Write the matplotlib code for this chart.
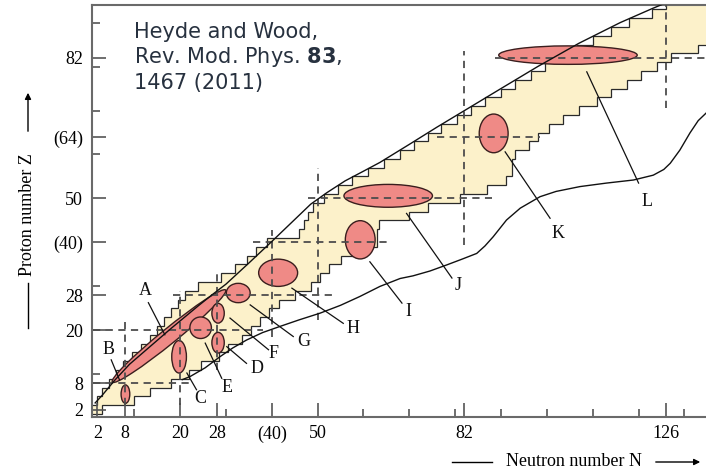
import numpy as np
import matplotlib.pyplot as plt
from matplotlib.patches import Ellipse, Polygon

# ------------------------------------------------------------------ #
#   Data (N = neutrons, Z = protons)
# ------------------------------------------------------------------ #
# band of known nuclei: one row per 2 units of Z, left / right edge in N
row_z = np.arange(1, 95, 2)
row_n_min = [0, 2, 3, 4.5, 6, 7.5, 9.5, 11.5, 13.5, 15,
             16.5, 18, 19.5, 21, 24, 29, 32, 34.5, 36.5, 39,
             46, 47, 48, 49, 51.5, 54.5, 57.5, 61, 64.5, 68,
             71, 74, 77, 80.5, 83.5, 86.5, 90, 93, 96.5, 99.5,
             103, 106.5, 110, 114, 118, 123, 126]
row_n_max = [3, 10, 13.5, 18, 22, 24.5, 28.5, 30.5, 33.5, 35.5,
             37.5, 39.5, 41.5, 45, 48.5, 50.5, 52.5, 55, 59, 63,
             63, 63.5, 70, 74, 81, 87, 91, 92.5, 92.5, 93,
             96, 98, 100.5, 103.5, 107, 111, 114, 117.5, 120.5, 124,
             127, 133, 140, 140, 140, 140, 140]

# proton drip line (upper smooth curve)
p_drip_n = [1.5, 3, 5.8, 9, 12, 15, 18, 21, 24, 27, 30, 35, 40, 45, 48.5,
            52, 56, 60, 63.6, 70, 76, 83, 90, 98, 107, 116, 123, 126]
p_drip_z = [3.5, 5.2, 8.7, 12.3, 15, 17.7, 20.4, 23, 25.6, 28.1, 30.5, 35.3,
            40.2, 45.2, 48.7, 51.3, 54, 56.2, 58.2, 62.3, 66.2, 70.6, 75, 80,
            85.3, 90, 93.2, 94.5]

# lower smooth curve
n_line_n = [20.5, 22.2, 25.5, 28.7, 31.5, 34.5, 38, 41.8, 46, 50.5, 55, 59.2,
            63.6, 68, 70.8, 74.5, 78.2, 81.5, 84.7, 86.5, 88.3, 91.2, 94.2,
            98.5, 102, 107.2, 113, 118.9, 123.2, 125.5, 126.9, 129, 131.2,
            133, 134.7]
n_line_z = [8.8, 9.5, 11.5, 14, 16, 17.8, 19.5, 20.9, 22.4, 23.9, 25.7, 27.7,
            30, 31.8, 32.4, 33.5, 34.9, 36.2, 37.5, 39.2, 41.3, 45.1, 47.8,
            50.4, 51.6, 52.7, 53.5, 54.2, 55.3, 56.6, 58, 61, 64.9, 67.7, 69.4]

# shape-coexistence regions (ellipses)
region_names = ["A", "B", "C", "D", "E", "F", "G", "H", "I", "J", "K", "L"]
ell_n = [17.6, 8.1, 19.8, 28.3, 24.5, 28.3, 32.7, 41.4, 59.3, 65.4, 88.4, 104.6]
ell_z = [18.7, 5.5, 14.0, 17.2, 20.6, 23.9, 28.5, 33.1, 40.6, 50.6, 64.8, 82.6]
ell_w = [32.4, 1.9, 3.2, 2.7, 4.7, 2.7, 5.2, 8.5, 6.5, 19.3, 6.3, 30.2]
ell_h = [3.4, 4.2, 7.4, 4.7, 4.9, 4.5, 4.4, 6.2, 8.7, 5.2, 8.8, 4.2]
ell_ang = [40.3, 0, 0, 0, 0, 0, 0, 0, 0, 0, 0, 0]

# label text position and leader line (start -> end)
lab_n = [12.4, 4.4, 24.4, 36.7, 30.2, 40.3, 46.9, 57.7, 69.8, 80.7, 102.5, 121.8]
lab_z = [29.0, 15.6, 4.6, 11.4, 6.9, 14.8, 17.5, 20.5, 24.3, 30.3, 42.1, 49.3]
lead_n0 = [16.7, 6.8, 21.5, 30.2, 25.5, 30.9, 35.3, 44.4, 61.4, 69.4, 90.9, 108.7]
lead_z0 = [19.0, 8.75, 10.3, 16.3, 17.1, 22.8, 25.8, 29.6, 35.6, 46.6, 60.6, 78.8]
lead_n1 = [13.1, 5.0, 23.6, 34.5, 29.1, 39.3, 44.7, 55.6, 68.4, 79.3, 100.7, 120.0]
lead_z1 = [26.3, 13.3, 6.5, 12.5, 9.1, 15.6, 18.6, 21.6, 26.2, 31.9, 45.5, 53.5]

# magic-number dashed guides
h_dash_z = [8, 20, 28, 40, 50, 64, 82]
h_dash_n0 = [1, 1, 18.5, 36, 48, 76, 88.7]
h_dash_n1 = [22, 38, 53.5, 66, 88, 98.5, 136]
v_dash_n = [8, 20, 28, 40, 50, 82, 126]
v_dash_z0 = [3, 3, 11, 18.6, 22.4, 39.4, 70.5]
v_dash_z1 = [22, 29, 34, 42.8, 57, 83.5, 95]

x_major = [2, 8, 20, 28, 40, 50, 82, 126]
x_major_lab = ["2", "8", "20", "28", "(40)", "50", "82", "126"]
x_minor = [10, 30, 60, 70, 80, 90, 100, 110, 120, 130]
y_major = [2, 8, 20, 28, 40, 50, 64, 82]
y_major_lab = ["2", "8", "20", "28", "(40)", "50", "(64)", "82"]
y_minor = [10, 30, 60, 70, 80, 90]

SERIF = "Liberation Serif"
W, H = 706, 471


def fx(px):
    return px / W


def fy(py):
    return 1 - py / H


# ------------------------------------------------------------------ #
fig = plt.figure(figsize=(W / 100, H / 100), dpi=100)
ax = fig.add_axes([fx(91.5), fy(417), 1 - fx(91.5), fy(5) - fy(417)])
ax.set_xlim(0.7, 134.7)
ax.set_ylim(0.3, 94)

# band of known nuclei as a staircase
right = []
for z, n in zip(row_z, row_n_max):
    right += [(n, z), (n, z + 2)]
left = []
for z, n in zip(row_z[::-1], row_n_min[::-1]):
    left += [(n, z + 2), (n, z)]
ax.add_patch(Polygon(right + left, closed=True, facecolor="#fcf1ca",
                     edgecolor="#2a2a2a", lw=0.9, zorder=1))

for i in range(len(region_names)):
    ax.add_patch(Ellipse((ell_n[i], ell_z[i]), ell_w[i], ell_h[i],
                         angle=ell_ang[i], facecolor="#ef8a86",
                         edgecolor="#3a1e1e", lw=1.0, zorder=3))

for z, a, b in zip(h_dash_z, h_dash_n0, h_dash_n1):
    ax.plot([a, b], [z, z], color="#4d4d4d", lw=1.3, ls=(0, (4, 3)), zorder=4)
for n, a, b in zip(v_dash_n, v_dash_z0, v_dash_z1):
    ax.plot([n, n], [a, b], color="#4d4d4d", lw=1.3, ls=(0, (4, 3)), zorder=4)

ax.plot(p_drip_n, p_drip_z, color="#111111", lw=1.0, zorder=5)
ax.plot(n_line_n, n_line_z, color="#111111", lw=1.0, zorder=5)

for i, name in enumerate(region_names):
    ax.plot([lead_n0[i], lead_n1[i]], [lead_z0[i], lead_z1[i]],
            color="#111111", lw=0.9, zorder=5)
    ax.text(lab_n[i], lab_z[i], name, family=SERIF, fontsize=13,
            ha="center", va="center", color="#111111", zorder=6)

# axes styling
for side in ["left", "bottom", "top"]:
    ax.spines[side].set_color("#6a6a6a")
    ax.spines[side].set_linewidth(1.5)
ax.spines["right"].set_visible(False)

ax.set_xticks(x_major, x_major_lab)
ax.set_xticks(x_minor, minor=True)
ax.set_yticks(y_major, y_major_lab)
ax.set_yticks(y_minor, minor=True)
ax.tick_params(which="both", direction="in", color="#555555", width=1.2,
               labelsize=13, pad=6)
ax.tick_params(which="major", length=10)
ax.tick_params(which="minor", length=6)
for lab in ax.get_xticklabels() + ax.get_yticklabels():
    lab.set_family(SERIF)

# axis titles with arrows
fig.text(fx(28), fy(215), "Proton number Z", rotation=90, family=SERIF,
         fontsize=13, ha="center", va="center")
fig.add_artist(plt.Line2D([fx(28), fx(28)], [fy(283), fy(328)],
                          color="k", lw=1))
ax.annotate("", xy=(fx(28), fy(90)), xytext=(fx(28), fy(134)),
            xycoords="figure fraction",
            arrowprops=dict(arrowstyle="-|>", color="k", lw=1,
                            mutation_scale=9))

fig.text(fx(574), fy(462), "Neutron number N", family=SERIF, fontsize=13,
         ha="center", va="center")
fig.add_artist(plt.Line2D([fx(452), fx(492)], [fy(462), fy(462)],
                          color="k", lw=1))
ax.annotate("", xy=(fx(703), fy(462)), xytext=(fx(653), fy(462)),
            xycoords="figure fraction",
            arrowprops=dict(arrowstyle="-|>", color="k", lw=1,
                            mutation_scale=9))

# citation
cite_color = "#27313f"
for ypx, line in [(37.5, "Heyde and Wood,"),
                  (63, r"Rev. Mod. Phys. $\mathbf{83}$,"),
                  (88.5, "1467 (2011)")]:
    fig.text(fx(134), fy(ypx), line, fontsize=15, color=cite_color,
             va="baseline")

fig.savefig("out.png", dpi=100)
